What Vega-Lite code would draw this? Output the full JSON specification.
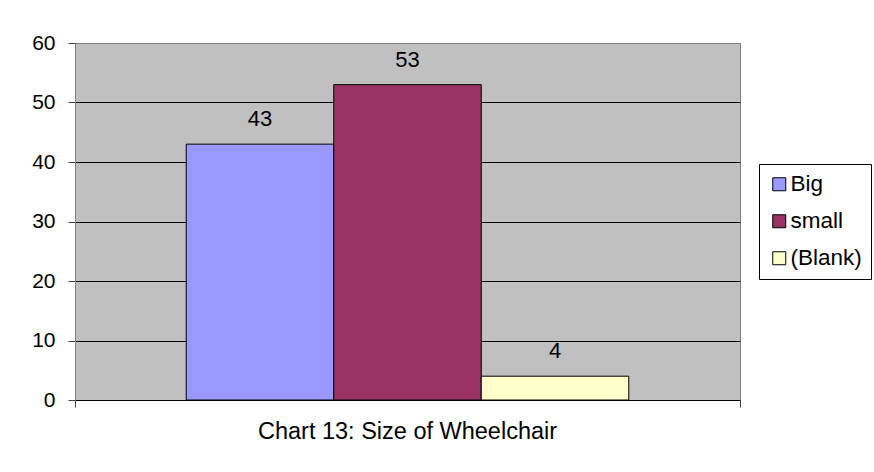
{
  "$schema": "https://vega.github.io/schema/vega-lite/v6.json",
  "autosize": "none",
  "width": 665,
  "height": 357,
  "padding": {"left": 75, "top": 43, "right": 134, "bottom": 72},
  "background": "#ffffff",
  "data": {
    "values": [
      {"group": "Size of Wheelchair", "series": "Big", "value": 43},
      {"group": "Size of Wheelchair", "series": "small", "value": 53},
      {"group": "Size of Wheelchair", "series": "(Blank)", "value": 4}
    ]
  },
  "title": {
    "text": "Chart 13: Size of Wheelchair",
    "orient": "bottom",
    "anchor": "middle",
    "offset": 10,
    "font": "Liberation Sans",
    "fontSize": 23.5,
    "fontWeight": "normal",
    "color": "#000000"
  },
  "encoding": {
    "x": {
      "field": "group",
      "type": "nominal",
      "scale": {"paddingInner": 0, "paddingOuter": 0},
      "axis": {
        "labels": false,
        "title": null,
        "tickBand": "extent",
        "ticks": true,
        "tickSize": 7,
        "tickColor": "#404040",
        "domain": true,
        "domainColor": "#000000"
      }
    },
    "xOffset": {
      "field": "series",
      "type": "nominal",
      "sort": ["Big", "small", "(Blank)"],
      "scale": {"paddingInner": 0, "paddingOuter": 0.754}
    },
    "y": {
      "field": "value",
      "type": "quantitative",
      "scale": {"domain": [0, 60], "nice": false},
      "axis": {
        "values": [0, 10, 20, 30, 40, 50, 60],
        "title": null,
        "grid": true,
        "gridColor": {"condition": {"test": "datum.value === 60 || datum.value === 0", "value": "#808080"}, "value": "#000000"},
        "gridOpacity": 1,
        "domainColor": "#808080",
        "tickColor": "#404040",
        "tickSize": 7,
        "labelPadding": 13,
        "labelFont": "Liberation Sans",
        "labelFontSize": 21,
        "labelColor": "#000000"
      }
    }
  },
  "layer": [
    {
      "mark": {"type": "bar", "stroke": "#000000", "strokeWidth": 1},
      "encoding": {
        "color": {
          "field": "series",
          "type": "nominal",
          "sort": ["Big", "small", "(Blank)"],
          "scale": {"domain": ["Big", "small", "(Blank)"], "range": ["#9999FF", "#993366", "#FFFFCC"]},
          "legend": {
            "title": null,
            "orient": "none",
            "legendX": 684,
            "legendY": 121,
            "symbolType": "square",
            "symbolSize": 169,
            "symbolStrokeColor": "#000000",
            "symbolStrokeWidth": 1,
            "symbolOpacity": 1,
            "labelFont": "Liberation Sans",
            "labelFontSize": 22.5,
            "labelColor": "#000000",
            "labelOffset": 0,
            "rowPadding": 14,
            "padding": 9,
            "strokeColor": "#000000",
            "fillColor": "#ffffff"
          }
        }
      }
    },
    {
      "mark": {"type": "text", "dy": -18, "baseline": "alphabetic", "font": "Liberation Sans", "fontSize": 22, "color": "#000000"},
      "encoding": {
        "text": {"field": "value", "type": "quantitative"}
      }
    }
  ],
  "config": {
    "view": {"fill": "#C0C0C0", "stroke": "#808080", "strokeWidth": 1}
  }
}
